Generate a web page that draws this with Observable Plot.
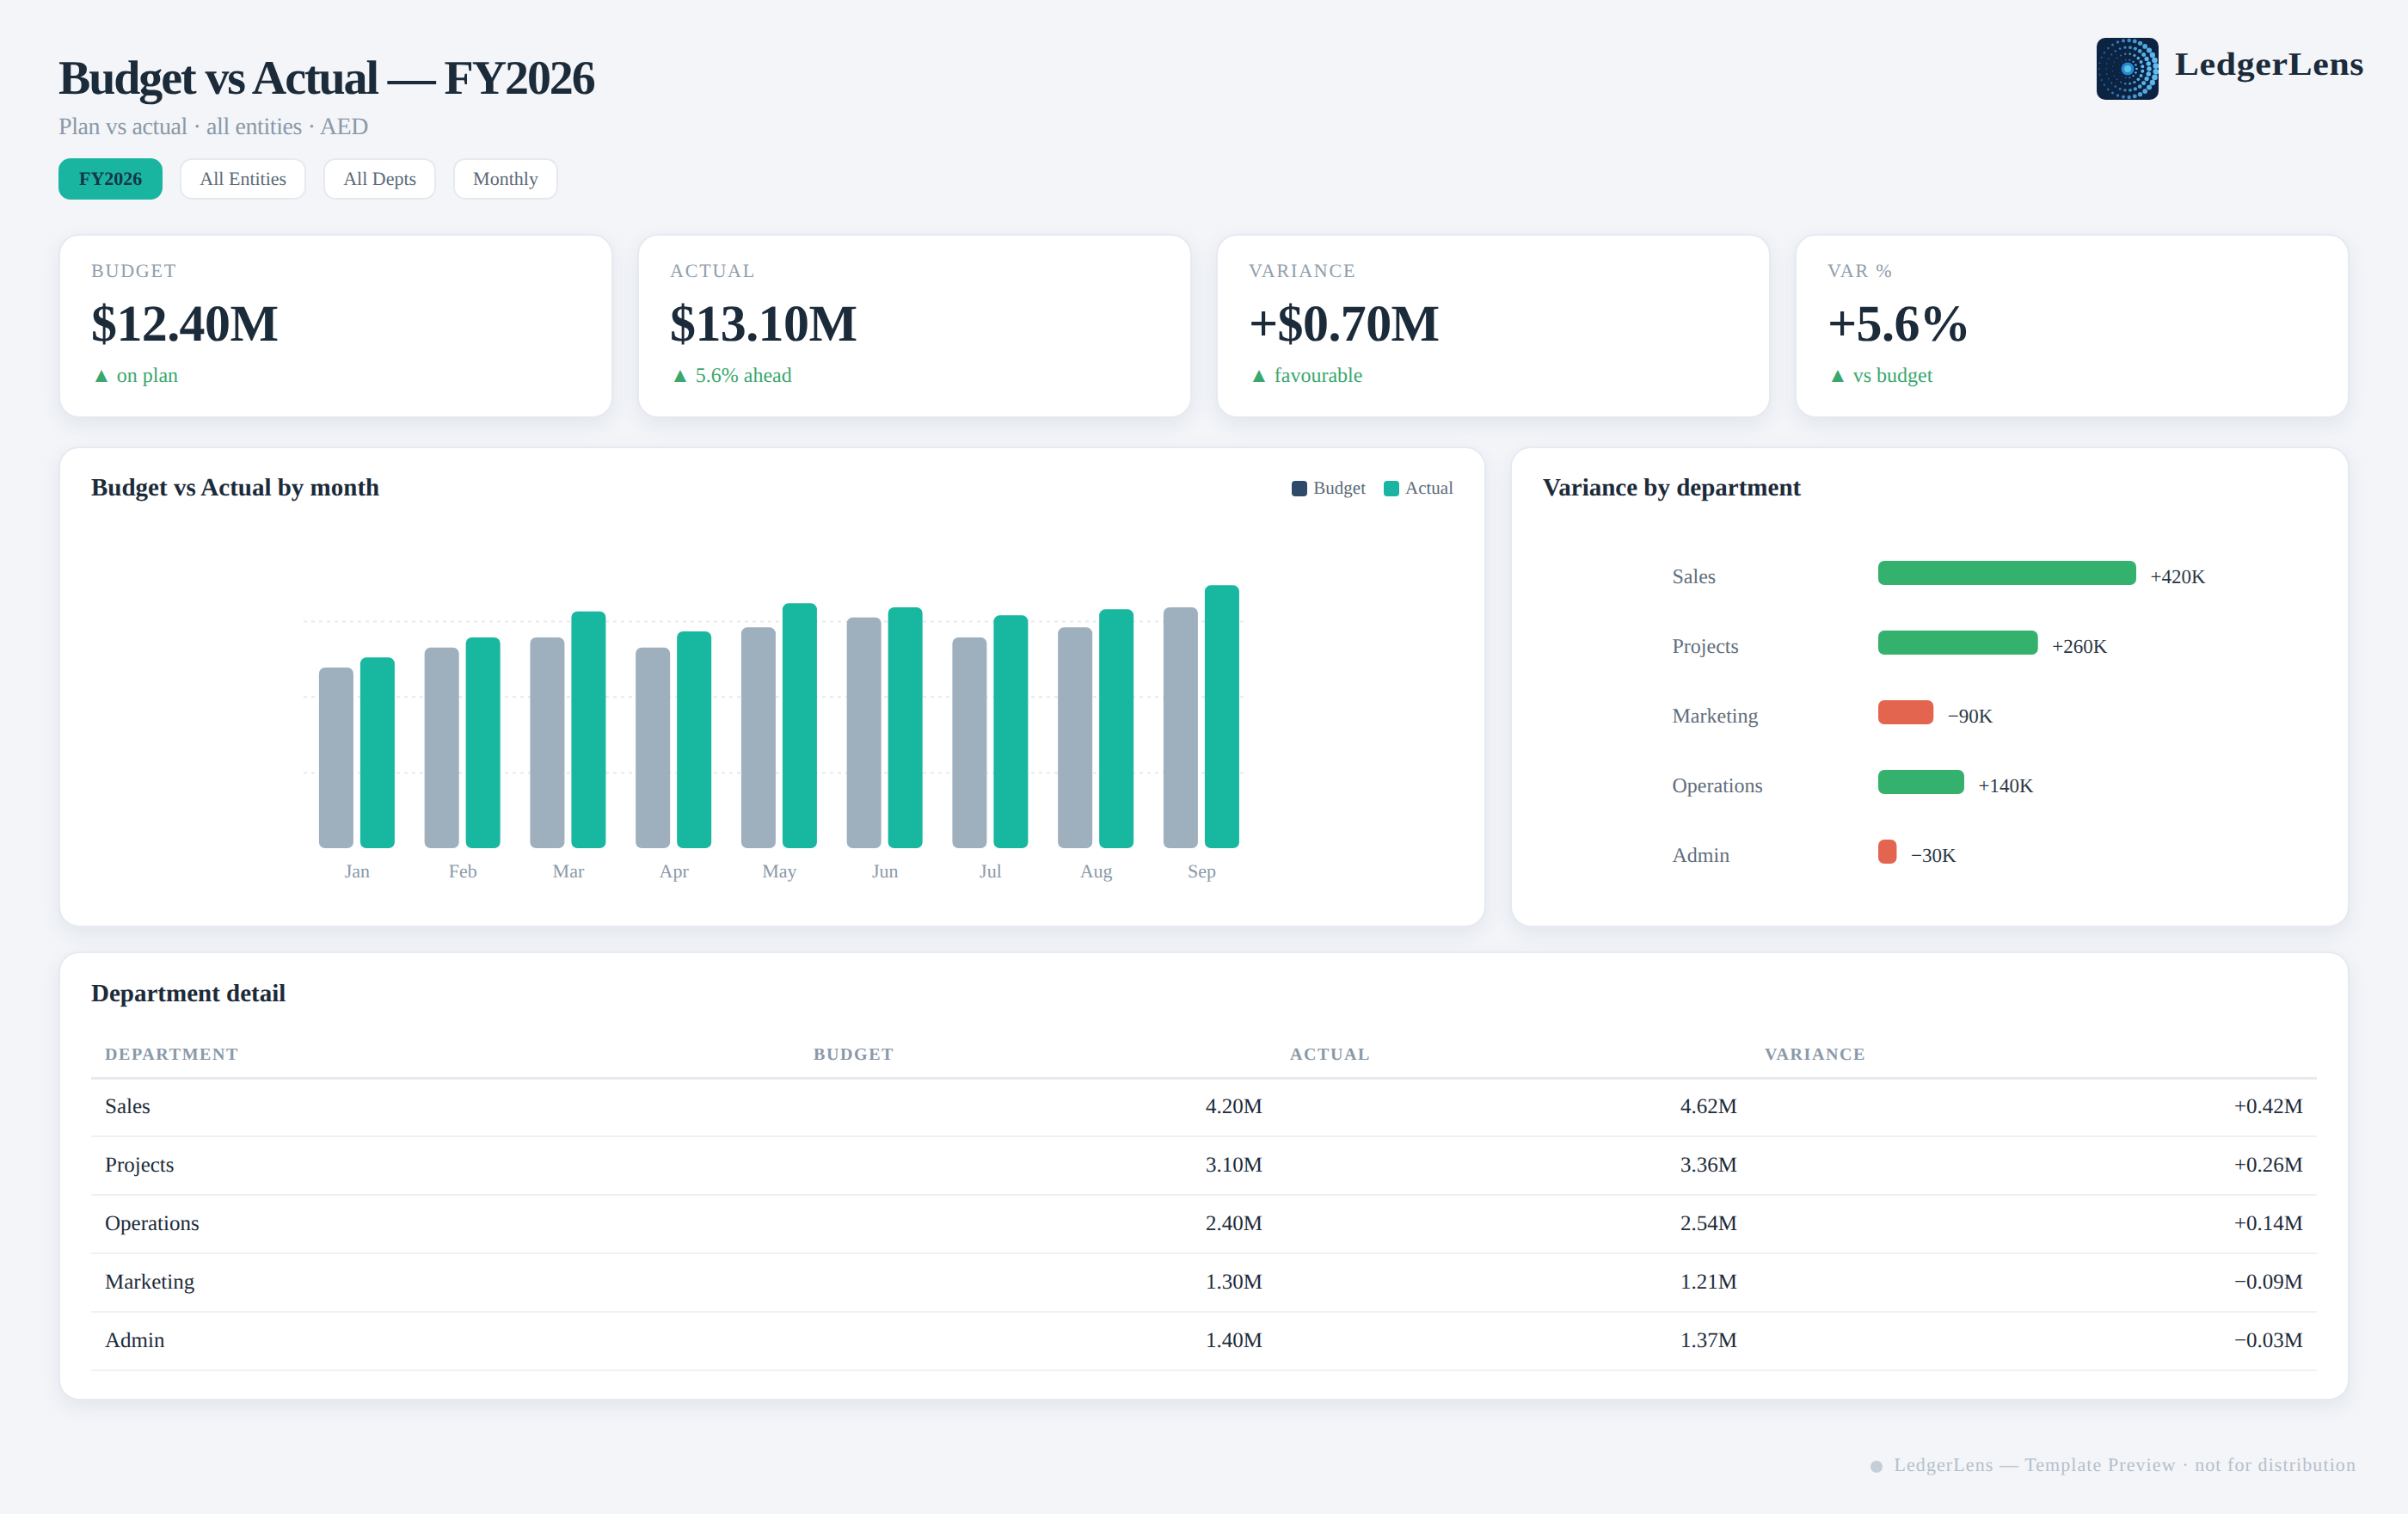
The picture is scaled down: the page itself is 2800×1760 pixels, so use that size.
<!DOCTYPE html>
<html>
<head>
<meta charset="utf-8">
<script src="https://cdn.jsdelivr.net/npm/d3@7"></script>
<script src="https://cdn.jsdelivr.net/npm/@observablehq/plot@0.6"></script>
<style>
*{box-sizing:border-box}
html,body{margin:0;padding:0}
body{width:2800px;height:1760px;background:#f3f5f9;font-family:"Liberation Serif",serif;color:#1c2b3a;position:relative;overflow:hidden;text-rendering:geometricPrecision}
.abs{position:absolute}
.card{position:absolute;background:#fff;border:2px solid #e6eaf0;border-radius:24px;box-shadow:0 8px 24px rgba(30,50,80,.08)}
h1{position:absolute;left:68px;top:59px;margin:0;font-size:56px;line-height:64px;font-weight:700;letter-spacing:-2.1px;color:#1c2b3a}
.sub{position:absolute;left:68px;top:131px;font-size:28px;line-height:34px;color:#8a99a8;letter-spacing:-.4px}
.pills{position:absolute;left:68px;top:184px;display:flex;gap:20px}
.pill{height:48px;line-height:43px;padding:0 21px;border:2px solid #e6eaef;border-radius:14px;background:#fff;font-size:22px;color:#5a6a78}
.pill.on{padding:0 22px;background:#1ab5a0;border-color:#1ab5a0;font-weight:700;color:#12374a}
.kpi .lab{position:absolute;left:36px;top:28px;font-size:22px;line-height:26px;letter-spacing:1.8px;color:#8f9dab}
.kpi .val{position:absolute;left:36px;top:66px;font-size:60px;line-height:72px;font-weight:700;letter-spacing:-.6px;color:#1c2b3a}
.kpi .del{position:absolute;left:36px;top:148px;font-size:24px;line-height:30px;color:#3aa76d}
.ct{position:absolute;font-size:29px;line-height:36px;font-weight:700;color:#1c2b3a}
.leg{position:absolute;right:36px;top:34px;display:flex;align-items:center;font-size:21px;color:#5a6a78}
.leg i{display:inline-block;width:18px;height:18px;border-radius:4px;margin-right:7px}
.leg span{margin-right:21px}.leg span:last-child{margin-right:0}
table{position:absolute;left:36px;top:93px;width:2588px;border-collapse:collapse;table-layout:fixed}
th{font-size:20px;font-weight:700;letter-spacing:1.6px;color:#8a99a8;text-align:left;padding:0 16px;height:52px;border-bottom:3px solid #e6eaee}
td{font-size:25px;color:#1c2b3a;padding:0 16px;height:68px;border-bottom:2px solid #eef1f4;text-align:right}
td:first-child{text-align:left}
.foot{position:absolute;right:60px;top:1689px;font-size:22px;line-height:28px;letter-spacing:1.08px;color:#b5c0cb;display:flex;align-items:center}
.foot i{display:inline-block;width:14px;height:14px;border-radius:50%;background:#c3ced9;margin-right:14px;position:relative;top:2px}
.brand{position:absolute;left:2529px;top:52px;font-size:38px;line-height:46px;font-weight:700;color:#1c2b3a;transform-origin:left center;transform:scaleX(1.1);letter-spacing:.6px;white-space:nowrap}
.mount{position:absolute}
.mount svg{display:block;overflow:visible}
</style>
</head>
<body>
<h1>Budget vs Actual — FY2026</h1>
<div class="sub">Plan vs actual · all entities · AED</div>
<div class="pills" id="pills"></div>
<svg class="abs" id="logo" style="left:2438px;top:44px" width="72" height="72" viewBox="-36 -36 72 72"></svg>
<div class="brand">LedgerLens</div>

<div id="kpis"></div>

<div class="card" style="left:68px;top:519px;width:1660px;height:559px">
  <div class="ct" style="left:36px;top:28px">Budget vs Actual by month</div>
  <div class="leg" id="legend"></div>
</div>
<div class="card" style="left:1756px;top:519px;width:976px;height:559px">
  <div class="ct" style="left:36px;top:28px">Variance by department</div>
</div>
<div class="mount" id="monthly" style="left:106px;top:600px"></div>
<div class="mount" id="variance" style="left:1943px;top:599px"></div>

<div class="card" style="left:68px;top:1106px;width:2664px;height:522px">
  <div class="ct" style="left:36px;top:29px">Department detail</div>
  <table id="detail"></table>
</div>

<div class="foot"><i></i>LedgerLens — Template Preview · not for distribution</div>

<script>
// ---- data ----
const filters = ["FY2026", "All Entities", "All Depts", "Monthly"];
const kpiLabels = ["BUDGET", "ACTUAL", "VARIANCE", "VAR %"];
const kpiValues = ["$12.40M", "$13.10M", "+$0.70M", "+5.6%"];
const kpiNotes = ["▲ on plan", "▲ 5.6% ahead", "▲ favourable", "▲ vs budget"];

const months = ["Jan", "Feb", "Mar", "Apr", "May", "Jun", "Jul", "Aug", "Sep"];
const budgetM = [0.90, 1.00, 1.05, 1.00, 1.10, 1.15, 1.05, 1.10, 1.20];
const actualM = [0.95, 1.05, 1.18, 1.08, 1.22, 1.20, 1.16, 1.19, 1.31];
const gridValues = [0.377, 0.755, 1.131];

const varDepts = ["Sales", "Projects", "Marketing", "Operations", "Admin"];
const varianceK = [420, 260, -90, 140, -30];
const varianceLabels = ["+420K", "+260K", "−90K", "+140K", "−30K"];

const tableHead = ["DEPARTMENT", "BUDGET", "ACTUAL", "VARIANCE"];
const tableDepts = ["Sales", "Projects", "Operations", "Marketing", "Admin"];
const tableBudget = ["4.20M", "3.10M", "2.40M", "1.30M", "1.40M"];
const tableActual = ["4.62M", "3.36M", "2.54M", "1.21M", "1.37M"];
const tableVariance = ["+0.42M", "+0.26M", "+0.14M", "−0.09M", "−0.03M"];

const legendItems = ["Budget", "Actual"];
const legendColors = ["#2f4a68", "#1ab5a0"];

// ---- colours ----
const BUDGET = "#9eafbe", ACTUAL = "#18b7a0", POS = "#34b16c", NEG = "#e4654f";
const FONT = '"Liberation Serif", serif';

// ---- header and cards ----
d3.select("#pills").selectAll("div").data(filters).join("div")
  .attr("class", (d, i) => i ? "pill" : "pill on").text(d => d);

const kpiLeft = [68, 741, 1414, 2087];
kpiLabels.forEach((lab, i) => {
  const c = d3.select("#kpis").append("div").attr("class", "card kpi")
    .style("left", kpiLeft[i] + "px").style("top", "272px")
    .style("width", "645px").style("height", "214px");
  c.append("div").attr("class", "lab").text(lab);
  c.append("div").attr("class", "val").text(kpiValues[i]);
  c.append("div").attr("class", "del").text(kpiNotes[i]);
});

const leg = d3.select("#legend");
legendItems.forEach((t, i) => {
  leg.append("i").style("background", legendColors[i]);
  leg.append("span").text(t);
});

// ---- monthly bars ----
const monthly = months.map((m, i) => ({month: m, budget: budgetM[i], actual: actualM[i]}));
document.getElementById("monthly").append(Plot.plot({
  width: 1583, height: 440,
  marginLeft: 247, marginRight: 238, marginTop: 36, marginBottom: 54,
  style: {background: "none", fontFamily: FONT},
  x: {domain: months, paddingInner: 0.283, paddingOuter: 0.114, align: 0.64, round: false, label: null, axis: null},
  y: {domain: [0, 1.5], axis: null},
  marks: [
    Plot.ruleY(gridValues, {stroke: "#e6eaee", strokeWidth: 2, strokeDasharray: "4 5"}),
    Plot.barY(monthly, {x: "month", y: "budget", fill: BUDGET, rx: 7, insetRight: 48}),
    Plot.barY(monthly, {x: "month", y: "actual", fill: ACTUAL, rx: 7, insetLeft: 48}),
    Plot.axisX({domain: months, tickSize: 0, tickPadding: 18, fontSize: 22, fill: "#8a99a8", label: null})
  ]
}));

// ---- variance bars ----
const variance = varDepts.map((d, i) => ({dept: d, value: varianceK[i], label: varianceLabels[i]}));
document.getElementById("variance").append(Plot.plot({
  width: 752, height: 458,
  marginLeft: 241, marginRight: 211, marginTop: 0, marginBottom: 0,
  style: {background: "none", fontFamily: FONT},
  x: {domain: [0, 420], axis: null},
  y: {domain: varDepts, padding: 0.654, round: false, label: null, axis: null},
  marks: [
    Plot.barX(variance, {x: d => Math.abs(d.value), y: "dept", fill: d => d.value >= 0 ? POS : NEG, rx: 7}),
    Plot.text(variance, {x: d => Math.abs(d.value), y: "dept", text: "label", dx: 16, dy: 4, textAnchor: "start", fontSize: 23, fill: "#2b3744"}),
    Plot.axisY({anchor: "left", tickSize: 0, tickPadding: 240, textAnchor: "start", dy: 4, fontSize: 24, fill: "#5f6e7c", label: null})
  ]
}));

// ---- table ----
const t = d3.select("#detail");
const cg = t.append("colgroup");
[824, 554, 552, 658].forEach(w => cg.append("col").style("width", w + "px"));
t.append("thead").append("tr").selectAll("th").data(tableHead).join("th").text(d => d);
const tb = t.append("tbody");
tableDepts.forEach((d, i) => {
  const tr = tb.append("tr");
  [d, tableBudget[i], tableActual[i], tableVariance[i]].forEach(v => tr.append("td").text(v));
});

// ---- decorative logo ----
const logo = d3.select("#logo");
logo.append("rect").attr("x", -36).attr("y", -36).attr("width", 72).attr("height", 72).attr("rx", 10).attr("fill", "#0c2342");
logo.append("circle").attr("r", 7.5).attr("fill", "#2488d8");
logo.append("circle").attr("r", 4).attr("fill", "#5cc4d8");
const ringColor = d3.scaleLinear().domain([-1, 1]).range(["#1b5a96", "#5fbcf0"]);
const ringRadii = [10.5, 17.5, 25, 33], ringCounts = [14, 20, 26, 31], ringSize = [0.9, 1.4, 1.9, 2.3];
ringRadii.forEach((r, k) => {
  d3.range(ringCounts[k]).forEach(j => {
    const a = (j + k * 0.5) / ringCounts[k] * 2 * Math.PI, c = Math.cos(a);
    logo.append("circle").attr("cx", r * c).attr("cy", r * Math.sin(a))
      .attr("r", ringSize[k] * (0.95 + 0.5 * c))
      .attr("fill", ringColor(c));
  });
});
</script>
</body>
</html>
